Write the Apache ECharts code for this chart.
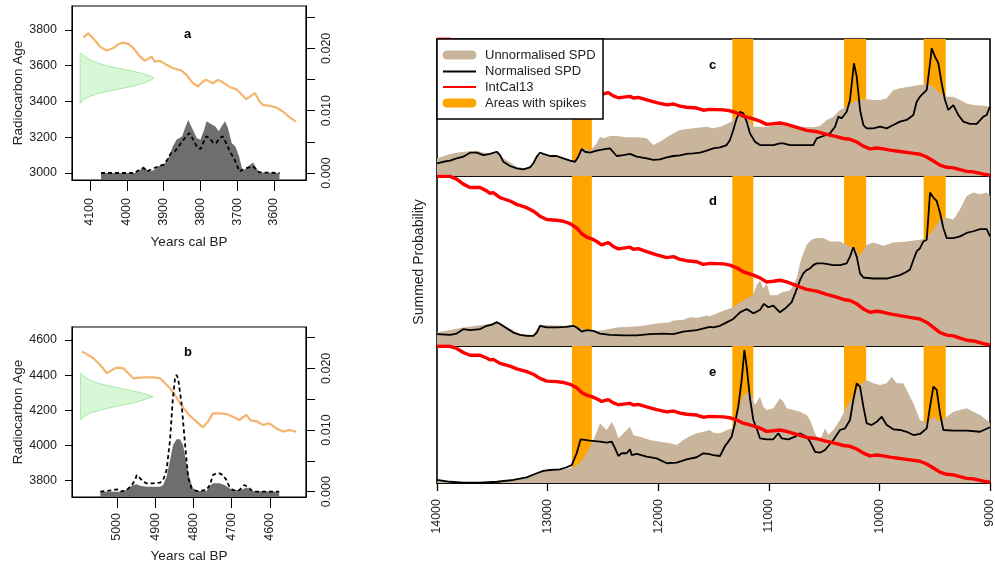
<!DOCTYPE html>
<html><head><meta charset="utf-8">
<script src="https://cdn.jsdelivr.net/npm/echarts@6.0.0/dist/echarts.min.js"></script>
<style>html,body{margin:0;padding:0;background:#fff}#chart{width:995px;height:565px}</style>
</head><body><div id="chart"></div>
<script>
// ---------- Panel a ----------
const yearTicksA = [4100, 4000, 3900, 3800, 3700, 3600];
const ageTicksA = [3000, 3200, 3400, 3600, 3800];
const probTicks = [0, 0.005, 0.01, 0.015, 0.02, 0.025];
const probLabels = [0, 0.01, 0.02];
const calCurveA = [[4118,3757],[4105,3781],[4091,3753],[4073,3707],[4055,3685],[4037,3698],[4023,3720],[4010,3729],[3996,3722],[3982,3698],[3964,3651],[3951,3627],[3933,3651],[3924,3623],[3910,3627],[3892,3605],[3874,3586],[3851,3573],[3838,3549],[3820,3502],[3806,3484],[3793,3512],[3784,3521],[3766,3502],[3752,3521],[3738,3506],[3720,3480],[3702,3469],[3675,3413],[3652,3447],[3639,3400],[3630,3381],[3612,3376],[3594,3367],[3576,3344],[3558,3313],[3541,3288]];
const dateBaseA = 4127;
const dateEdgeA = [[4125,3670],[4113,3651],[4100,3633],[4077,3614],[4046,3595],[4001,3577],[3960,3558],[3933,3540],[3926,3530],[3933,3521],[3955,3502],[3987,3484],[4032,3465],[4073,3447],[4102,3428],[4118,3409],[4127,3391]];
const spdGreyA = [[4070,0],[3980,0],[3965,0.0004],[3955,0.00107],[3945,0.00053],[3935,0.00027],[3925,0.00053],[3915,0.00107],[3905,0.00133],[3895,0.0016],[3885,0.00267],[3875,0.00427],[3865,0.00533],[3850,0.00587],[3842,0.0072],[3833,0.0085],[3825,0.0075],[3810,0.0056],[3800,0.00533],[3790,0.0069],[3783,0.0083],[3775,0.008],[3760,0.0075],[3750,0.0067],[3740,0.0077],[3733,0.0083],[3725,0.0072],[3715,0.0048],[3705,0.00427],[3695,0.00267],[3685,0.00027],[3670,0.00107],[3657,0.0017],[3648,0.0008],[3640,0.0001],[3585,0]];
const spdDashA = [[4070,0],[3980,0],[3965,0.00053],[3955,0.0008],[3945,0.00027],[3925,0.0008],[3910,0.00117],[3900,0.00133],[3890,0.00213],[3880,0.0032],[3870,0.00347],[3862,0.004],[3850,0.00507],[3838,0.00587],[3830,0.0064],[3822,0.0056],[3810,0.00427],[3800,0.00384],[3793,0.0048],[3784,0.00587],[3775,0.0056],[3766,0.0049],[3757,0.0048],[3748,0.0056],[3739,0.00587],[3730,0.0048],[3720,0.00347],[3712,0.00267],[3703,0.0016],[3694,0.00027],[3675,0.0008],[3657,0.00107],[3640,0.0001],[3585,0]];

// ---------- Panel b ----------
const yearTicksB = [5000, 4900, 4800, 4700, 4600];
const ageTicksB = [3800, 4000, 4200, 4400, 4600];
const calCurveB = [[5091,4534],[5078,4520],[5061,4496],[5043,4458],[5026,4411],[5013,4429],[5000,4443],[4983,4439],[4970,4411],[4957,4382],[4939,4386],[4922,4388],[4905,4388],[4887,4382],[4874,4354],[4861,4325],[4848,4287],[4835,4240],[4822,4202],[4809,4168],[4792,4136],[4775,4103],[4762,4136],[4749,4183],[4732,4183],[4714,4179],[4697,4164],[4680,4145],[4662,4174],[4649,4141],[4636,4139],[4619,4117],[4602,4126],[4584,4098],[4567,4079],[4550,4088],[4532,4079]];
const dateBaseB = 5095;
const dateEdgeB = [[5094,4411],[5085,4392],[5071,4373],[5048,4354],[5013,4335],[4970,4316],[4931,4297],[4905,4278],[4931,4259],[4961,4240],[5004,4221],[5043,4202],[5071,4183],[5087,4164],[5095,4145]];
const spdGreyB = [[5043,0],[4983,0],[4974,0.00038],[4965,0.00081],[4957,0.00108],[4948,0.00119],[4939,0.00097],[4922,0.00081],[4887,0.00081],[4879,0.00108],[4870,0.00243],[4861,0.00513],[4853,0.00757],[4844,0.00849],[4835,0.00849],[4827,0.00757],[4818,0.00459],[4809,0.00189],[4801,0.00054],[4792,0.00011],[4766,0.00011],[4757,0.00092],[4749,0.00135],[4732,0.00135],[4719,0.00108],[4706,0.00054],[4697,0.00027],[4680,0.00027],[4671,0.00038],[4662,0.0007],[4654,0.00038],[4645,0.00011],[4576,0]];
const spdDashB = [[5043,0],[5009,0.00027],[5000,0.00038],[4991,0],[4974,0.00027],[4961,0.00108],[4952,0.00189],[4948,0.0027],[4939,0.00216],[4931,0.00162],[4922,0.00135],[4905,0.00135],[4887,0.00146],[4879,0.00189],[4870,0.00351],[4861,0.00838],[4854,0.01486],[4848,0.01838],[4844,0.01892],[4840,0.01838],[4831,0.01432],[4822,0.00784],[4814,0.00243],[4805,0.00054],[4792,0.00011],[4766,0.00027],[4757,0.00108],[4749,0.00270],[4740,0.00297],[4732,0.00297],[4723,0.0027],[4714,0.00189],[4706,0.00081],[4697,0.00027],[4680,0.00027],[4667,0.00108],[4658,0.00081],[4649,0.00027],[4636,0],[4576,0]];

// ---------- Panels c, d, e ----------
const calYearTicks = [14000, 13000, 12000, 11000, 10000, 9000];
const spikeBands = [[12780,12600],[11330,11140],[10320,10120],[9600,9400]];
const intcal13 = [[14000,12142],[13882,12142],[13822,12076],[13762,11954],[13702,11873],[13611,11873],[13551,11791],[13521,11734],[13491,11751],[13430,11629],[13340,11547],[13279,11466],[13189,11385],[13129,11303],[13069,11181],[13008,11100],[12918,11083],[12858,11059],[12797,11002],[12737,10897],[12692,10758],[12647,10678],[12601,10636],[12556,10571],[12511,10490],[12451,10546],[12406,10449],[12360,10392],[12315,10409],[12255,10433],[12225,10384],[12180,10400],[12104,10327],[12014,10246],[11923,10180],[11863,10205],[11803,10140],[11743,10107],[11652,10083],[11592,10019],[11532,10043],[11411,10030],[11351,10002],[11290,9936],[11230,9839],[11140,9758],[11080,9693],[11019,9595],[10959,9612],[10899,9636],[10838,9595],[10778,9538],[10718,9473],[10658,9416],[10567,9375],[10477,9294],[10387,9229],[10326,9172],[10266,9148],[10205,9067],[10145,8945],[10085,8863],[10024,8887],[9964,8863],[9904,8823],[9814,8782],[9723,8741],[9633,8701],[9572,8619],[9512,8497],[9452,8375],[9392,8311],[9331,8294],[9271,8238],[9211,8189],[9150,8172],[9060,8106],[9000,8074]];

const unnormC = [[14000,12.9],[13882,16.1],[13762,17.7],[13641,18.5],[13521,16.1],[13460,17.0],[13400,12.9],[13279,6.8],[13219,5.6],[13159,6.8],[13098,14.1],[13039,16.1],[12918,14.6],[12797,11.7],[12752,11.7],[12677,20.2],[12617,18.5],[12556,23.8],[12526,28.7],[12496,27.5],[12436,29.2],[12375,29.2],[12285,28.2],[12194,28.2],[12104,27.5],[12044,22.6],[11984,25.0],[11923,28.2],[11863,31.1],[11803,33.6],[11682,34.8],[11561,36.0],[11502,34.8],[11441,36.0],[11381,38.0],[11336,39.7],[11290,44.5],[11260,45.7],[11200,43.3],[11140,36.0],[11019,36.0],[10899,37.2],[10808,36.0],[10718,36.0],[10598,35.5],[10537,36.5],[10477,40.9],[10417,43.3],[10356,48.2],[10296,50.6],[10236,54.2],[10175,55.5],[10115,56.0],[10055,55.5],[9994,55.5],[9934,56.7],[9874,62.8],[9814,64.0],[9693,65.7],[9572,67.2],[9512,65.2],[9452,60.4],[9392,57.9],[9331,57.9],[9271,55.5],[9211,53.0],[9150,51.8],[9030,51.1],[9000,50.6]];
const normC = [[14000,9.3],[13943,10.4],[13882,11.2],[13822,12.9],[13762,14.1],[13702,17.0],[13641,17.0],[13581,15.3],[13521,16.1],[13460,17.7],[13430,15.3],[13400,10.4],[13340,7.3],[13279,5.6],[13219,4.9],[13159,6.3],[13129,9.3],[13098,14.1],[13069,17.0],[13039,16.1],[12978,14.6],[12918,14.6],[12858,12.9],[12797,11.2],[12752,10.4],[12722,14.1],[12692,19.7],[12662,17.7],[12617,17.0],[12556,18.5],[12496,19.5],[12436,20.2],[12375,14.6],[12315,15.3],[12255,16.1],[12194,14.1],[12104,12.9],[12044,11.7],[11984,12.2],[11923,13.6],[11863,14.6],[11803,15.1],[11743,16.1],[11682,16.5],[11622,17.0],[11561,18.5],[11502,20.2],[11441,20.9],[11381,22.6],[11351,26.3],[11321,33.6],[11290,42.1],[11260,46.9],[11230,45.7],[11200,39.7],[11170,31.1],[11125,25.0],[11080,22.6],[11019,22.6],[10959,22.6],[10899,23.8],[10869,23.8],[10808,22.6],[10718,22.6],[10598,22.6],[10567,27.5],[10507,29.2],[10447,31.1],[10401,36.0],[10371,43.3],[10341,42.1],[10296,46.9],[10266,55.5],[10230,82.3],[10205,72.5],[10175,48.2],[10145,37.2],[10115,34.8],[10055,34.8],[9994,36.0],[9934,34.8],[9874,37.2],[9814,39.7],[9753,40.9],[9693,44.5],[9663,54.2],[9633,57.9],[9572,62.8],[9542,82.3],[9527,93.2],[9497,87.1],[9467,82.3],[9437,67.7],[9407,55.5],[9377,48.2],[9331,51.8],[9286,44.5],[9241,39.7],[9181,38.0],[9120,38.0],[9060,43.3],[9030,44.5],[9000,50.6]];

const unnormD = [[14000,7.9],[13762,10.9],[13521,12.9],[13460,14.9],[13370,11.3],[13249,7.0],[13129,6.5],[13069,12.5],[12858,11.9],[12767,12.5],[12677,9.9],[12556,8.9],[12496,9.3],[12375,10.9],[12255,11.3],[12134,11.9],[12014,13.3],[11893,13.9],[11863,15.0],[11773,15.5],[11712,16.9],[11652,16.5],[11561,17.9],[11532,17.5],[11411,20.8],[11321,22.8],[11260,25.8],[11200,27.8],[11140,30.5],[11110,35.7],[11080,38.7],[11050,33.7],[11019,36.7],[10989,29.8],[10929,29.8],[10869,31.7],[10808,32.7],[10748,39.7],[10718,48.6],[10688,54.6],[10658,59.5],[10613,62.5],[10567,63.5],[10507,63.5],[10447,61.5],[10356,61.5],[10266,58.5],[10205,56.5],[10175,52.6],[10145,56.5],[10115,59.5],[10055,60.9],[9964,58.9],[9874,60.9],[9753,61.5],[9633,62.5],[9572,63.5],[9512,68.5],[9452,74.4],[9392,75.4],[9331,74.4],[9271,80.4],[9211,88.3],[9150,90.3],[9090,89.3],[9030,90.3],[9000,88.3]];
const normD = [[14000,7.0],[13882,6.5],[13822,7.3],[13762,9.9],[13702,9.3],[13611,9.9],[13551,11.9],[13506,12.5],[13460,13.9],[13430,12.9],[13370,10.5],[13310,7.9],[13249,6.5],[13189,6.0],[13129,6.0],[13098,7.9],[13069,11.9],[13008,10.9],[12918,10.9],[12828,11.3],[12767,11.9],[12737,10.9],[12692,8.5],[12647,9.3],[12586,8.9],[12526,7.3],[12436,6.5],[12315,6.3],[12194,6.3],[12074,7.0],[11953,7.3],[11863,7.0],[11773,8.5],[11652,9.3],[11532,11.3],[11502,10.9],[11441,11.9],[11381,13.9],[11321,15.9],[11260,19.8],[11200,21.8],[11140,19.2],[11080,21.2],[11044,24.8],[11004,22.8],[10959,23.8],[10899,19.8],[10838,22.8],[10793,25.8],[10763,30.8],[10718,38.7],[10688,42.7],[10658,44.6],[10627,45.6],[10598,47.6],[10567,48.6],[10507,48.6],[10417,47.6],[10356,47.6],[10296,48.6],[10266,52.6],[10236,58.1],[10205,52.6],[10175,42.7],[10145,40.3],[10055,39.7],[9934,39.7],[9874,40.7],[9814,41.7],[9753,43.7],[9723,45.0],[9693,50.6],[9663,55.6],[9633,57.5],[9603,61.5],[9572,62.5],[9542,90.3],[9512,87.3],[9482,85.3],[9452,78.4],[9422,69.4],[9392,63.5],[9331,63.5],[9271,64.5],[9211,66.5],[9150,67.5],[9090,68.8],[9030,68.8],[9000,64.5]];

const unnormE = [[14000,0.9],[13460,0.2],[13189,3.4],[13039,8.8],[12858,10.0],[12767,11.5],[12707,14.4],[12647,21.7],[12586,31.4],[12556,37.4],[12526,43.6],[12496,41.1],[12466,38.7],[12420,44.7],[12390,39.9],[12360,32.6],[12315,36.3],[12285,38.7],[12255,41.1],[12225,35.0],[12164,33.8],[12074,31.4],[11984,30.2],[11893,29.0],[11833,27.7],[11773,31.4],[11712,34.3],[11652,36.3],[11592,37.4],[11532,38.7],[11502,36.7],[11441,36.3],[11381,38.7],[11321,39.9],[11290,48.4],[11230,64.2],[11170,66.6],[11125,56.9],[11080,63.0],[11050,55.7],[11019,53.3],[10959,54.5],[10899,61.8],[10869,59.3],[10838,54.5],[10778,53.3],[10718,52.0],[10658,49.6],[10627,46.0],[10582,36.3],[10552,31.4],[10522,33.8],[10492,39.9],[10462,35.0],[10417,38.7],[10356,46.0],[10296,55.7],[10236,63.0],[10175,71.5],[10115,75.2],[10055,72.8],[9994,71.5],[9934,72.8],[9889,77.6],[9844,72.8],[9784,72.8],[9723,63.0],[9693,58.2],[9633,46.0],[9572,43.6],[9512,48.4],[9452,44.7],[9392,48.4],[9331,52.0],[9271,53.3],[9211,54.5],[9150,52.0],[9090,49.6],[9030,46.0],[9000,43.6]];
const normE = [[14000,2.2],[13882,0.9],[13762,0.2],[13611,0.2],[13460,0.9],[13310,2.2],[13189,4.1],[13098,7.1],[13039,8.8],[12978,9.5],[12888,10.0],[12828,11.5],[12782,13.1],[12737,21.7],[12701,31.9],[12662,31.4],[12617,30.9],[12526,30.2],[12466,29.4],[12420,30.2],[12390,25.3],[12360,19.7],[12330,21.7],[12285,21.7],[12255,24.6],[12240,20.4],[12194,21.2],[12104,19.2],[12014,18.0],[11923,14.4],[11833,14.8],[11743,17.3],[11652,18.8],[11592,21.7],[11547,21.2],[11502,20.4],[11441,19.7],[11396,27.0],[11366,30.2],[11336,33.8],[11306,43.6],[11276,55.7],[11245,75.2],[11221,97.1],[11200,84.9],[11170,61.8],[11140,46.0],[11110,39.9],[11080,32.6],[11019,31.9],[10959,31.9],[10914,36.3],[10884,32.6],[10823,31.9],[10763,33.8],[10718,36.3],[10658,33.8],[10627,30.2],[10582,22.8],[10537,22.1],[10492,24.1],[10462,27.0],[10417,31.4],[10356,38.7],[10311,39.9],[10266,46.0],[10236,60.6],[10205,72.8],[10175,70.3],[10145,55.7],[10115,43.6],[10070,42.3],[10024,44.7],[9979,48.4],[9934,42.3],[9874,39.2],[9814,38.7],[9753,37.4],[9693,35.0],[9633,35.8],[9572,39.9],[9542,55.7],[9512,70.3],[9482,67.9],[9452,50.9],[9422,38.7],[9331,38.2],[9211,38.2],[9090,37.4],[9000,40.7]];

const legendLabels = ['Unnormalised SPD', 'Normalised SPD', 'IntCal13', 'Areas with spikes'];
const panelLetters = ['a', 'b', 'c', 'd', 'e'];

// ---------- styling ----------
const FONT = 'Liberation Sans, Arial, Helvetica, sans-serif';
const TXT = '#222';
const TAN = '#C9B59C';
const ORANGE = '#FFA500';
const CALORANGE = '#F6B56C';
const GREY = '#6E6E6E';
const plain = v => String(v);

function bottomAxis(gi, min, max, ticks, tickLen, margin, nameGap) {
  return {gridIndex: gi, type: 'value', min: min, max: max, inverse: true,
    axisLine: {show: true, onZero: false, lineStyle: {color: '#000', width: 1}},
    axisTick: {show: true, length: tickLen, customValues: ticks, lineStyle: {color: '#000'}},
    axisLabel: {show: true, customValues: ticks, rotate: 90, margin: margin, fontSize: 12.5, color: TXT, fontFamily: FONT, formatter: plain},
    splitLine: {show: false},
    name: 'Years cal BP', nameLocation: 'middle', nameGap: nameGap,
    nameTextStyle: {fontSize: 13.5, color: TXT, fontFamily: FONT}};
}
function ageAxis(gi, min, max, ticks) {
  return {gridIndex: gi, type: 'value', position: 'left', min: min, max: max,
    axisLine: {show: true, onZero: false, lineStyle: {color: '#000'}},
    axisTick: {show: true, length: 7, customValues: ticks, lineStyle: {color: '#000'}},
    axisLabel: {customValues: ticks, margin: 15, fontSize: 12.5, color: TXT, fontFamily: FONT, formatter: plain},
    splitLine: {show: false},
    name: 'Radiocarbon Age', nameLocation: 'middle', nameGap: 45,
    nameTextStyle: {fontSize: 13.5, color: TXT, fontFamily: FONT}};
}
function probAxis(gi, min, max) {
  return {gridIndex: gi, type: 'value', position: 'right', min: min, max: max,
    axisLine: {show: true, onZero: false, lineStyle: {color: '#000'}},
    axisTick: {show: true, length: 9, customValues: probTicks, lineStyle: {color: '#000'}},
    axisLabel: {customValues: probLabels, rotate: 90, margin: 14, fontSize: 12.5, color: TXT, fontFamily: FONT,
      formatter: v => Number(v).toFixed(3)},
    splitLine: {show: false}};
}
function hiddenY(gi, min, max) {
  return {gridIndex: gi, type: 'value', min: min, max: max, show: false, splitLine: {show: false}};
}

const gridBase = {show: true, borderColor: '#000', borderWidth: 1.3, backgroundColor: 'transparent', containLabel: false, outerBoundsMode: 'none'};
const grids = [
  Object.assign({}, gridBase, {left: 72, top: 6, width: 234, height: 174, borderWidth: 1.2}),
  Object.assign({}, gridBase, {left: 72, top: 327, width: 234, height: 170, borderWidth: 1.2}),
  Object.assign({}, gridBase, {left: 437, top: 39, width: 553, height: 137, borderWidth: 1.6}),
  Object.assign({}, gridBase, {left: 437, top: 176, width: 553, height: 170, borderWidth: 1.6}),
  Object.assign({}, gridBase, {left: 437, top: 346, width: 553, height: 137, borderWidth: 1.6})
];

const xAxes = [
  bottomAxis(0, 3513, 4149, yearTicksA, 11, 18, 55),
  bottomAxis(1, 4506, 5117, yearTicksB, 11, 16, 52),
  {gridIndex: 2, type: 'value', min: 9000, max: 14000, inverse: true, show: false},
  {gridIndex: 3, type: 'value', min: 9000, max: 14000, inverse: true, show: false},
  {gridIndex: 4, type: 'value', min: 9000, max: 14000, inverse: true, interval: 1000,
    axisLine: {show: true, onZero: false, lineStyle: {color: '#000', width: 1.5}},
    axisTick: {show: true, length: 8, customValues: calYearTicks, lineStyle: {color: '#000', width: 1.3}},
    axisLabel: {show: true, customValues: calYearTicks, rotate: 90, margin: 16, fontSize: 12.5, color: TXT, fontFamily: FONT, formatter: plain},
    splitLine: {show: false}}
];
const yAxes = [
  ageAxis(0, 2961, 3934, ageTicksA), probAxis(0, -0.00112, 0.02679),
  ageAxis(1, 3707, 4674, ageTicksB), probAxis(1, -0.00086, 0.0267),
  hiddenY(2, 0, 100), hiddenY(2, 8050, 12150),
  hiddenY(3, 0, 100), hiddenY(3, 8050, 12150),
  hiddenY(4, 0, 100), hiddenY(4, 8050, 12150)
];

function dateSeries(xi, yi, base, edge) {
  return {type: 'custom', xAxisIndex: xi, yAxisIndex: yi, z: 1, silent: true,
    data: [[base, edge[0][1]]],
    renderItem: function (params, api) {
      const pts = [api.coord([base, edge[0][1]])]
        .concat(edge.map(p => api.coord(p)))
        .concat([api.coord([base, edge[edge.length - 1][1]])]);
      return {type: 'polygon', shape: {points: pts},
        style: {fill: 'rgba(150,235,150,0.38)', stroke: 'rgba(150,225,150,0.75)', lineWidth: 1}};
    }};
}
function lineSeries(xi, yi, data, color, width, z, extra) {
  return Object.assign({type: 'line', xAxisIndex: xi, yAxisIndex: yi, data: data, showSymbol: false, symbol: 'none',
    silent: true, z: z, lineStyle: {color: color, width: width}, itemStyle: {color: color}}, extra || {});
}
function areaSeries(xi, yi, data, color, z) {
  return {type: 'line', xAxisIndex: xi, yAxisIndex: yi, data: data, showSymbol: false, symbol: 'none', silent: true, z: z,
    lineStyle: {width: 0, color: color}, itemStyle: {color: color}, areaStyle: {color: color, opacity: 1, origin: 'start'}};
}
function bandSeries(xi, yi) {
  return {type: 'custom', xAxisIndex: xi, yAxisIndex: yi, z: 1, silent: true, data: spikeBands,
    renderItem: function (params, api) {
      const cs = params.coordSys;
      const x0 = api.coord([api.value(0), 50])[0];
      const x1 = api.coord([api.value(1), 50])[0];
      return {type: 'rect', shape: {x: Math.min(x0, x1), y: cs.y, width: Math.abs(x1 - x0), height: cs.height},
        style: {fill: ORANGE}};
    }};
}

const series = [
  dateSeries(0, 0, dateBaseA, dateEdgeA),
  lineSeries(0, 0, calCurveA, CALORANGE, 2.2, 2),
  areaSeries(0, 1, spdGreyA, GREY, 2),
  lineSeries(0, 1, spdDashA, '#000', 1.8, 3, {lineStyle: {color: '#000', width: 1.8, type: [4, 3]}}),
  dateSeries(1, 2, dateBaseB, dateEdgeB),
  lineSeries(1, 2, calCurveB, CALORANGE, 2.2, 2),
  areaSeries(1, 3, spdGreyB, GREY, 2),
  lineSeries(1, 3, spdDashB, '#000', 1.8, 3, {lineStyle: {color: '#000', width: 1.8, type: [4, 3]}})
];
const big = [[unnormC, normC], [unnormD, normD], [unnormE, normE]];
big.forEach(function (p, i) {
  const gi = i + 2, ys = 4 + i * 2, yr = 5 + i * 2;
  series.push(bandSeries(gi, ys));
  series.push(areaSeries(gi, ys, p[0], TAN, 2));
  series.push(lineSeries(gi, ys, p[1], '#000', 1.8, 3));
  series.push(lineSeries(gi, yr, intcal13, '#FF0000', 3.4, 4));
});

const graphic = [
  {type: 'text', left: 184, top: 28, z: 50, style: {text: panelLetters[0], font: 'bold 13px ' + FONT, fill: '#000'}},
  {type: 'text', left: 184, top: 346, z: 50, style: {text: panelLetters[1], font: 'bold 13px ' + FONT, fill: '#000'}},
  {type: 'text', left: 709, top: 59, z: 50, style: {text: panelLetters[2], font: 'bold 13px ' + FONT, fill: '#000'}},
  {type: 'text', left: 709, top: 195, z: 50, style: {text: panelLetters[3], font: 'bold 13px ' + FONT, fill: '#000'}},
  {type: 'text', left: 709, top: 366, z: 50, style: {text: panelLetters[4], font: 'bold 13px ' + FONT, fill: '#000'}},
  {type: 'text', x: 419, y: 262, rotation: Math.PI / 2, z: 50,
    style: {text: 'Summed Probability', font: '14px ' + FONT, fill: TXT, textAlign: 'center', textVerticalAlign: 'middle'}},
  {type: 'rect', z: 100, shape: {x: 437, y: 39, width: 166, height: 80}, style: {fill: '#fff', stroke: '#000', lineWidth: 1.5}},
  {type: 'line', z: 101, shape: {x1: 447, y1: 55, x2: 472, y2: 55}, style: {stroke: TAN, lineWidth: 9, lineCap: 'round'}},
  {type: 'line', z: 101, shape: {x1: 443, y1: 71.5, x2: 476, y2: 71.5}, style: {stroke: '#000', lineWidth: 1.8}},
  {type: 'line', z: 101, shape: {x1: 443, y1: 87, x2: 476, y2: 87}, style: {stroke: '#FF0000', lineWidth: 1.8}},
  {type: 'line', z: 101, shape: {x1: 447, y1: 103, x2: 472, y2: 103}, style: {stroke: ORANGE, lineWidth: 9, lineCap: 'round'}}
];
[55, 71.5, 87, 103].forEach(function (y, i) {
  graphic.push({type: 'text', z: 102, x: 485, y: y,
    style: {text: legendLabels[i], font: '13px ' + FONT, fill: TXT, textVerticalAlign: 'middle'}});
});

const chart = echarts.init(document.getElementById('chart'), null, {renderer: 'canvas'});
chart.setOption({
  animation: false,
  backgroundColor: '#fff',
  textStyle: {fontFamily: FONT},
  grid: grids, xAxis: xAxes, yAxis: yAxes, series: series, graphic: graphic
});
</script></body></html>
